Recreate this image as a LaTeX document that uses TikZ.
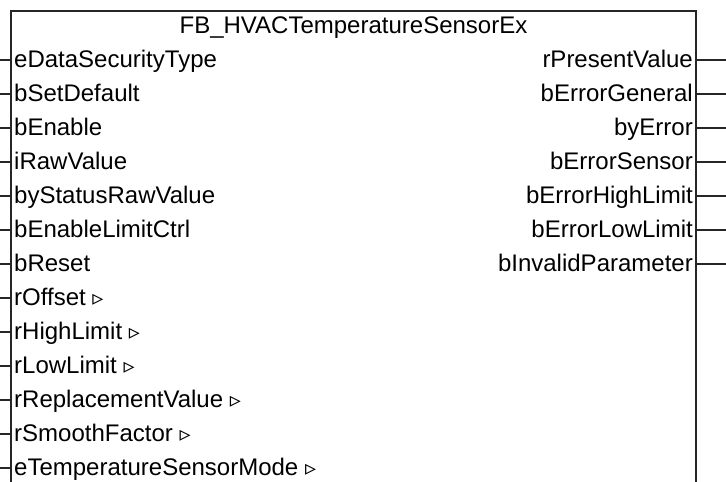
\documentclass[tikz,border=0pt]{standalone}
\usepackage{fontspec}
\setmainfont{Liberation Sans}
\newfontfamily\symfont{DejaVu Sans}
\usetikzlibrary{positioning}

\newcommand{\tri}{{\symfont\fontsize{22}{24}\selectfont ▹}}

\begin{document}
\begin{tikzpicture}[x=1pt,y=-1pt,font=\fontsize{24}{28}\selectfont]
  \tikzstyle{pinin}=[anchor=west,inner sep=0pt,text height=18.6pt,text depth=4pt]
  \tikzstyle{pinout}=[anchor=east,inner sep=0pt,text height=18.6pt,text depth=4pt]
  \tikzstyle{stub}=[line width=1.8pt,black!85]
  \useasboundingbox (0,0) rectangle (726,482);
  % Block frame (open at the bottom)
  \coordinate (fbnw) at (11,11);
  \coordinate (fbne) at (696,11);
  \coordinate (fbsw) at (11,482);
  \coordinate (fbse) at (696,482);
  \coordinate (lft) at (0,0);
  \coordinate (rgt) at (726,0);
  \draw[stub] (fbsw) -- (fbnw) -- (fbne) -- (fbse);
  \node[anchor=base,inner sep=0pt] (fbname) at (353.5,33) {FB\_HVACTemperatureSensorEx};
  % Inputs
  \node[pinin] (dataSec) at (14,60) {eDataSecurityType};
  \node[pinin,below=11pt of dataSec.south west,anchor=north west] (setDef) {bSetDefault};
  \node[pinin,below=11pt of setDef.south west,anchor=north west] (enable) {bEnable};
  \node[pinin,below=11pt of enable.south west,anchor=north west] (rawVal) {iRawValue};
  \node[pinin,below=11pt of rawVal.south west,anchor=north west] (rawStat) {byStatusRawValue};
  \node[pinin,below=11pt of rawStat.south west,anchor=north west] (limCtrl) {bEnableLimitCtrl};
  \node[pinin,below=11pt of limCtrl.south west,anchor=north west] (reset) {bReset};
  \node[pinin,below=11pt of reset.south west,anchor=north west] (offset) {rOffset \tri};
  \node[pinin,below=11pt of offset.south west,anchor=north west] (highLim) {rHighLimit \tri};
  \node[pinin,below=11pt of highLim.south west,anchor=north west] (lowLim) {rLowLimit \tri};
  \node[pinin,below=11pt of lowLim.south west,anchor=north west] (replVal) {rReplacementValue \tri};
  \node[pinin,below=11pt of replVal.south west,anchor=north west] (smooth) {rSmoothFactor \tri};
  \node[pinin,below=11pt of smooth.south west,anchor=north west] (sensMode) {eTemperatureSensorMode \tri};
  % Outputs
  \node[pinout] (presVal) at (693,60) {rPresentValue};
  \node[pinout,below=11pt of presVal.south east,anchor=north east] (errGen) {bErrorGeneral};
  \node[pinout,below=11pt of errGen.south east,anchor=north east] (errByte) {byError};
  \node[pinout,below=11pt of errByte.south east,anchor=north east] (errSens) {bErrorSensor};
  \node[pinout,below=11pt of errSens.south east,anchor=north east] (errHigh) {bErrorHighLimit};
  \node[pinout,below=11pt of errHigh.south east,anchor=north east] (errLow) {bErrorLowLimit};
  \node[pinout,below=11pt of errLow.south east,anchor=north east] (invPar) {bInvalidParameter};
  % Input stubs
  \draw[stub] (dataSec.west -| lft) -- (dataSec.west -| fbnw);
  \draw[stub] (setDef.west -| lft) -- (setDef.west -| fbnw);
  \draw[stub] (enable.west -| lft) -- (enable.west -| fbnw);
  \draw[stub] (rawVal.west -| lft) -- (rawVal.west -| fbnw);
  \draw[stub] (rawStat.west -| lft) -- (rawStat.west -| fbnw);
  \draw[stub] (limCtrl.west -| lft) -- (limCtrl.west -| fbnw);
  \draw[stub] (reset.west -| lft) -- (reset.west -| fbnw);
  \draw[stub] (offset.west -| lft) -- (offset.west -| fbnw);
  \draw[stub] (highLim.west -| lft) -- (highLim.west -| fbnw);
  \draw[stub] (lowLim.west -| lft) -- (lowLim.west -| fbnw);
  \draw[stub] (replVal.west -| lft) -- (replVal.west -| fbnw);
  \draw[stub] (smooth.west -| lft) -- (smooth.west -| fbnw);
  \draw[stub] (sensMode.west -| lft) -- (sensMode.west -| fbnw);
  % Output stubs
  \draw[stub] (presVal.east -| fbne) -- (presVal.east -| rgt);
  \draw[stub] (errGen.east -| fbne) -- (errGen.east -| rgt);
  \draw[stub] (errByte.east -| fbne) -- (errByte.east -| rgt);
  \draw[stub] (errSens.east -| fbne) -- (errSens.east -| rgt);
  \draw[stub] (errHigh.east -| fbne) -- (errHigh.east -| rgt);
  \draw[stub] (errLow.east -| fbne) -- (errLow.east -| rgt);
  \draw[stub] (invPar.east -| fbne) -- (invPar.east -| rgt);
\end{tikzpicture}
\end{document}
